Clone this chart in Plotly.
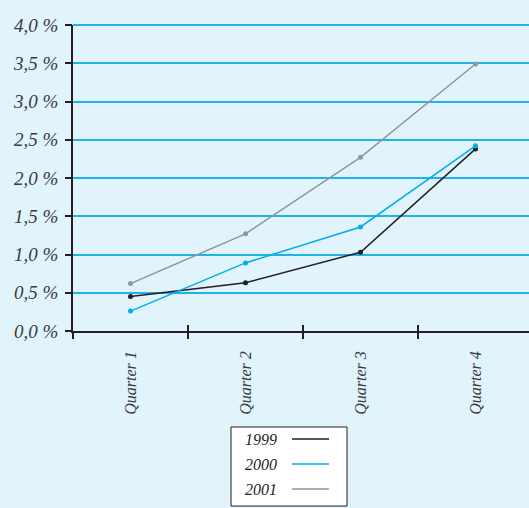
import plotly.graph_objects as go

# Quarterly values (percent) per year
quarters = ["Quarter 1", "Quarter 2", "Quarter 3", "Quarter 4"]
years = ["1999", "2000", "2001"]
values_1999 = [0.45, 0.63, 1.03, 2.38]
values_2000 = [0.26, 0.89, 1.36, 2.42]
values_2001 = [0.62, 1.27, 2.27, 3.49]
series_colors = ["#231f20", "#00aeef", "#939598"]

y_tick_vals = [0.0, 0.5, 1.0, 1.5, 2.0, 2.5, 3.0, 3.5, 4.0]
y_tick_text = ["0,0 %", "0,5 %", "1,0 %", "1,5 %", "2,0 %", "2,5 %", "3,0 %", "3,5 %", "4,0 %"]

font_family = "Liberation Serif"
bg = "#e1f3fb"
grid_color = "#1fb3e8"
ink = "#231f20"

W, H = 529, 508
L, R, T, B = 73, 0, 25, 177
plot_w = W - L - R
plot_h = H - T - B
cat_w = 115.0  # pixel width of one category slot

fig = go.Figure()
for name, vals, col in zip(years, [values_1999, values_2000, values_2001], series_colors):
    fig.add_trace(go.Scatter(
        x=quarters, y=vals, name=name,
        mode="lines+markers",
        line=dict(color=col, width=1.5),
        marker=dict(color=col, size=5),
        showlegend=False,
    ))

x_range = [-0.5, -0.5 + plot_w / cat_w]
y_range = [0, 4.0]
y_font = dict(family=font_family, size=19, color="#3a3a3c", style="italic")
x_font = dict(family=font_family, size=16, color="#3a3a3c", style="italic")

fig.update_layout(
    width=W, height=H,
    margin=dict(l=L, r=R, t=T, b=B),
    paper_bgcolor=bg, plot_bgcolor=bg,
    xaxis=dict(
        type="category", categoryorder="array", categoryarray=quarters,
        range=x_range,
        tickangle=-90, tickfont=x_font, ticklabelstandoff=12,
        ticks="outside", tickson="boundaries", ticklen=6, tickwidth=1.5, tickcolor=ink,
        showline=True, linecolor=ink, linewidth=1.5,
        showgrid=False, zeroline=False,
    ),
    xaxis2=dict(
        type="category", categoryorder="array", categoryarray=quarters,
        range=x_range, overlaying="x",
        ticks="inside", tickson="boundaries", ticklen=6, tickwidth=1.5, tickcolor=ink,
        showgrid=False, zeroline=False, showline=False, showticklabels=False,
        anchor="y", side="bottom",
    ),
    yaxis=dict(
        range=y_range, tickmode="array", tickvals=y_tick_vals, ticktext=y_tick_text,
        tickfont=y_font, ticklabelstandoff=9,
        ticks="", 
        showline=True, linecolor=ink, linewidth=1.5,
        showgrid=True, gridcolor=grid_color, gridwidth=2,
        zeroline=False,
    ),
    yaxis2=dict(
        range=y_range, overlaying="y", side="left", anchor="x",
        tickmode="array", tickvals=y_tick_vals,
        ticks="outside", ticklen=7, tickwidth=1.5, tickcolor=ink,
        showticklabels=False, showgrid=False, zeroline=False, showline=False,
    ),
    showlegend=False,
)
# invisible helper traces that activate the overlay axes (tick marks only)
fig.add_trace(go.Scatter(x=quarters[:1], y=[0], xaxis="x2", mode="markers",
                         marker=dict(opacity=0), hoverinfo="skip", showlegend=False))
fig.add_trace(go.Scatter(x=quarters[:1], y=[0], yaxis="y2", mode="markers",
                         marker=dict(opacity=0), hoverinfo="skip", showlegend=False))

# Custom legend: name first, then a short line in the series colour
def px_to_paper_x(px):
    return (px - L) / plot_w

def px_to_paper_y(py):
    return (H - B - py) / plot_h

shapes = [
    # top gridline sits on the edge of the plotting area
    dict(type="line", xref="paper", yref="paper", x0=0, x1=1, y0=1, y1=1,
         line=dict(color=grid_color, width=2), layer="below"),
    dict(type="rect", xref="paper", yref="paper",
         x0=px_to_paper_x(231), x1=px_to_paper_x(347),
         y0=px_to_paper_y(506), y1=px_to_paper_y(427),
         line=dict(color=ink, width=1), fillcolor="white", layer="above"),
]
annotations = []
row_y = [439, 464, 489]
for name, col, ry in zip(years, series_colors, row_y):
    annotations.append(dict(
        xref="paper", yref="paper", x=px_to_paper_x(279), y=px_to_paper_y(ry),
        text=name, showarrow=False, xanchor="right", yanchor="middle",
        font=dict(family=font_family, size=16, color=ink, style="italic"),
    ))
    shapes.append(dict(
        type="line", xref="paper", yref="paper",
        x0=px_to_paper_x(292), x1=px_to_paper_x(329),
        y0=px_to_paper_y(ry), y1=px_to_paper_y(ry),
        line=dict(color=col, width=1.5), layer="above",
    ))
fig.update_layout(shapes=shapes, annotations=annotations)

fig.write_html("out.html")
